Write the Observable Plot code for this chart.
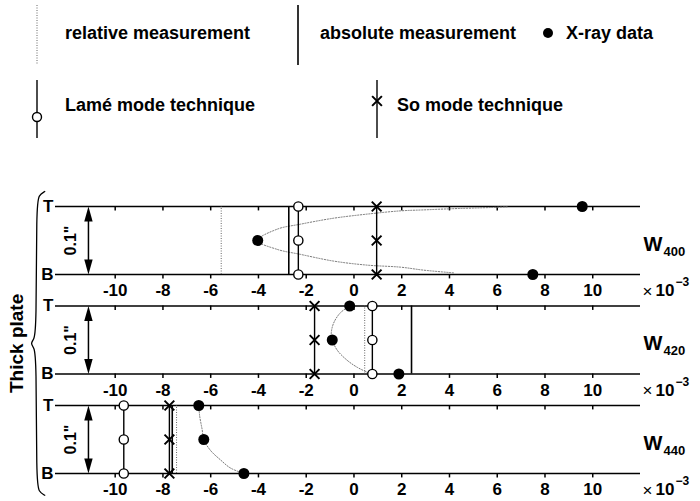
<!DOCTYPE html>
<html>
<head>
<meta charset="utf-8">
<script src="https://cdn.jsdelivr.net/npm/d3@7"></script>
<script src="https://cdn.jsdelivr.net/npm/@observablehq/plot@0.6"></script>
<style>
  body { margin: 0; background: #fff; }
  #legend, #chart { width: 700px; }
  text { font-family: "Liberation Sans", Arial, sans-serif; }
</style>
</head>
<body>
<div id="legend"></div>
<div id="chart"></div>
<script>
// ---------------- data ----------------
const panelIds = ["400", "420", "440"];          // W subscripts
const xTicks = [-10, -8, -6, -4, -2, 0, 2, 4, 6, 8, 10];
const levels = [0, 0.5, 1];                     // B, middle, T (through-thickness)
const levelLabels = ["B", "T"];
const lameX = [-2.33, 0.77, -9.64];
const soX = [0.95, -1.65, -7.73];
const absoluteX = [-2.73, 2.41, -7.61];
const relativeX = [-5.56, 0.45, -7.43];
const xrayW400 = [7.49, -4.03, 9.56];
const xrayW420 = [1.88, -0.91, -0.18];
const xrayW440 = [-4.61, -6.29, -6.5];
const fitW400x = [4.17, 2.92, 1.95, 0.55, -0.85, -2.24, -3.22, -4.04, -3.22, -2.24, -0.85, 0.55, 1.95, 2.91, 4.32, 5.72, 6.42];
const fitW400v = [0.024, 0.064, 0.108, 0.138, 0.197, 0.296, 0.37, 0.5, 0.666, 0.74, 0.828, 0.888, 0.936, 0.95, 0.97, 0.985, 0.995];
const fitW420x = [-0.18, -0.57, -0.85, -0.95, -0.91, -0.70, -0.28, 0.13, 0.55, 0.69];
const fitW420v = [1, 0.90, 0.75, 0.60, 0.50, 0.35, 0.20, 0.10, 0.025, 0];
const fitW440x = [-6.5, -6.46, -6.36, -6.29, -6.01, -5.59, -5.17, -4.61];
const fitW440v = [1, 0.84, 0.65, 0.5, 0.34, 0.2, 0.08, 0];
const legendRow1 = ["relative measurement", "absolute measurement", "X-ray data"];
const legendRow2 = ["Lamé mode technique", "So mode technique"];

// ---------------- layout helpers ----------------
const S = 1.463;                       // vertical step between panels (in thickness units)
const base = i => -i * S;
const xrays = [xrayW400, xrayW420, xrayW440];
const fitsX = [fitW400x, fitW420x, fitW440x];
const fitsV = [fitW400v, fitW420v, fitW440v];
const FONT = '"Liberation Sans", Arial, sans-serif';

const hLines = panelIds.flatMap((p, i) => [0, 1].map(v => ({p, y: base(i) + v, lab: levelLabels[v]})));
const tickRows = hLines.flatMap(h => xTicks.map(x => ({x, y: h.y})));
const tickLabelRows = panelIds.flatMap((p, i) => xTicks.map(x => ({x, y: base(i)})));
const panelRows = panelIds.map((p, i) => ({p, i, b: base(i)}));
const levelPts = (arr) => panelIds.flatMap((p, i) => levels.map(v => ({p, x: arr[i], y: base(i) + v})));
const lamePts = levelPts(lameX);
const soPts = levelPts(soX);
const xrayPts = panelIds.flatMap((p, i) => levels.map((v, k) => ({p, x: xrays[i][k], y: base(i) + v})));
const fitPts = panelIds.flatMap((p, i) => fitsX[i].map((x, k) => ({p, x, y: base(i) + fitsV[i][k]})));
const arrowX = -11.12;
const arrowHeads = panelRows.flatMap(r => [{x: arrowX, y: r.b + 1, dir: "up"}, {x: arrowX, y: r.b, dir: "down"}]);

// brace (left of the three panels)
const bTop = 1.22, bBot = base(2) - 0.32, bMid = (bTop + bBot) / 2;
const bracePts = [
  {x: -12.95, y: bTop}, {x: -13.2, y: bTop - 0.05}, {x: -13.3, y: bTop - 0.2},
  {x: -13.3, y: bMid + 0.2}, {x: -13.4, y: bMid + 0.06}, {x: -13.55, y: bMid},
  {x: -13.4, y: bMid - 0.06}, {x: -13.3, y: bMid - 0.2},
  {x: -13.3, y: bBot + 0.2}, {x: -13.2, y: bBot + 0.05}, {x: -12.95, y: bBot}
];

const upHead = {draw(ctx) { ctx.moveTo(0, 0); ctx.lineTo(-4.2, 15); ctx.lineTo(4.2, 15); ctx.closePath(); }};
const downHead = {draw(ctx) { ctx.moveTo(0, 0); ctx.lineTo(-4.2, -15); ctx.lineTo(4.2, -15); ctx.closePath(); }};

const chart = Plot.plot({
  width: 700,
  height: 321,
  marginLeft: 55,
  marginRight: 60,
  marginTop: 26,
  marginBottom: 28,
  style: {fontFamily: FONT, fontSize: "17px", color: "black", background: "white", overflow: "visible"},
  x: {domain: [-12.5, 12], axis: null},
  y: {domain: [base(2), 1], axis: null},
  marks: [
    Plot.ruleY(hLines, {y: "y", stroke: "black", strokeWidth: 1.6}),
    Plot.ruleX(tickRows, {x: "x", y1: "y", y2: d => d.y - 0.065, stroke: "black", strokeWidth: 1.5}),
    Plot.text(tickLabelRows, {x: "x", y: "y", dy: 16.5, text: d => String(d.x), fontWeight: "bold", fontSize: 17}),
    Plot.text(hLines, {x: -12.5, y: "y", dx: -2, text: "lab", textAnchor: "end", fontWeight: "bold", fontSize: 17}),
    // fitted curves through X-ray data
    Plot.line(fitPts, {x: "x", y: "y", z: "p", curve: "catmull-rom", stroke: "#777", strokeWidth: 1, strokeDasharray: "1.2,1.6"}),
    // relative measurement
    Plot.ruleX(panelRows, {x: d => relativeX[d.i], y1: "b", y2: d => d.b + 1, stroke: "#666", strokeWidth: 1, strokeDasharray: "1,1.5"}),
    // absolute measurement
    Plot.ruleX(panelRows, {x: d => absoluteX[d.i], y1: "b", y2: d => d.b + 1, stroke: "black", strokeWidth: 1.6}),
    // Lamé mode
    Plot.ruleX(panelRows, {x: d => lameX[d.i], y1: "b", y2: d => d.b + 1, stroke: "black", strokeWidth: 1.4}),
    Plot.dot(lamePts, {x: "x", y: "y", r: 4.6, fill: "white", stroke: "black", strokeWidth: 1.4}),
    // So mode
    Plot.ruleX(panelRows, {x: d => soX[d.i], y1: "b", y2: d => d.b + 1, stroke: "black", strokeWidth: 1.4}),
    Plot.dot(soPts, {x: "x", y: "y", r: 4.5, symbol: "times", stroke: "black", strokeWidth: 2}),
    // X-ray data
    Plot.dot(xrayPts, {x: "x", y: "y", r: 5.5, fill: "black"}),
    // thickness arrow
    Plot.ruleX(panelRows, {x: arrowX, y1: d => d.b + 0.15, y2: d => d.b + 0.85, stroke: "black", strokeWidth: 1.5}),
    Plot.dot(arrowHeads.filter(d => d.dir === "up"), {x: "x", y: "y", symbol: upHead, fill: "black", stroke: "none"}),
    Plot.dot(arrowHeads.filter(d => d.dir === "down"), {x: "x", y: "y", symbol: downHead, fill: "black", stroke: "none"}),
    Plot.text(panelRows, {x: -11.85, y: d => d.b + 0.5, text: () => "0.1\"", rotate: -90, fontWeight: "bold", fontSize: 16}),
    // panel labels W_hkl
    Plot.text(panelRows, {x: 12, y: d => d.b + 0.5, dx: 3, dy: 4, text: () => "W", textAnchor: "start", fontWeight: "bold", fontSize: 20}),
    Plot.text(panelRows, {x: 12, y: d => d.b + 0.5, dx: 23, dy: 11, text: "p", textAnchor: "start", fontWeight: "bold", fontSize: 13}),
    // x 10^-3
    Plot.text(panelRows, {x: 12, y: "b", dx: 2, dy: 17, text: () => "×", textAnchor: "start", fontSize: 17}),
    Plot.text(panelRows, {x: 12, y: "b", dx: 15, dy: 16.5, text: () => "10", textAnchor: "start", fontWeight: "bold", fontSize: 17}),
    Plot.text(panelRows, {x: 12, y: "b", dx: 35, dy: 8, text: () => "−3", textAnchor: "start", fontWeight: "bold", fontSize: 12}),
    // brace and group label
    Plot.line(bracePts, {x: "x", y: "y", curve: "basis", stroke: "black", strokeWidth: 1.3}),
    Plot.text([{x: -14.1, y: bMid}], {x: "x", y: "y", text: () => "Thick plate", rotate: -90, fontWeight: "bold", fontSize: 19})
  ]
});
document.getElementById("chart").appendChild(chart);

// ---------------- legend (above the chart) ----------------
const L = d3.select("#legend").append("svg").attr("width", 700).attr("height", 180)
  .style("display", "block").style("font-family", FONT).style("font-weight", "bold").style("font-size", "18px");
// row 1
L.append("line").attr("x1", 37).attr("x2", 37).attr("y1", 5).attr("y2", 65)
  .attr("stroke", "#666").attr("stroke-width", 1).attr("stroke-dasharray", "1,1.5");
L.append("text").attr("x", 65).attr("y", 39).text(legendRow1[0]);
L.append("line").attr("x1", 298).attr("x2", 298).attr("y1", 5).attr("y2", 65)
  .attr("stroke", "black").attr("stroke-width", 1.6);
L.append("text").attr("x", 320).attr("y", 39).text(legendRow1[1]);
L.append("circle").attr("cx", 548).attr("cy", 33).attr("r", 5).attr("fill", "black");
L.append("text").attr("x", 566).attr("y", 39).text(legendRow1[2]);
// row 2
L.append("line").attr("x1", 37).attr("x2", 37).attr("y1", 80).attr("y2", 138)
  .attr("stroke", "black").attr("stroke-width", 1.4);
L.append("circle").attr("cx", 37).attr("cy", 117).attr("r", 4.5).attr("fill", "white").attr("stroke", "black").attr("stroke-width", 1.4);
L.append("text").attr("x", 65).attr("y", 111).text(legendRow2[0]);
L.append("line").attr("x1", 377).attr("x2", 377).attr("y1", 80).attr("y2", 138)
  .attr("stroke", "black").attr("stroke-width", 1.4);
L.append("path").attr("d", d3.symbol(d3.symbolTimes, 64)()).attr("transform", "translate(377,101)")
  .attr("stroke", "black").attr("stroke-width", 2).attr("fill", "none");
L.append("text").attr("x", 397).attr("y", 111).text(legendRow2[1]);
</script>
</body>
</html>
